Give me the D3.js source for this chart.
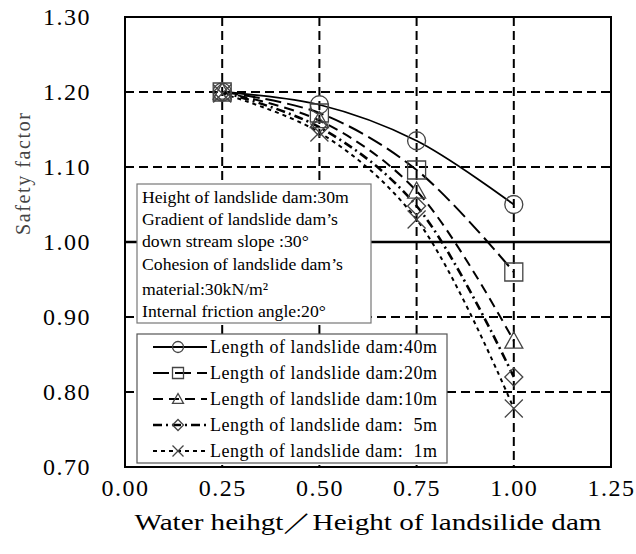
<!DOCTYPE html>
<html>
<head>
<meta charset="utf-8">
<script src="https://cdn.jsdelivr.net/npm/d3@7"></script>
<style>
  body { margin: 0; background: #fff; }
  text { font-family: "Liberation Serif", "DejaVu Serif", serif; fill: #000; }
</style>
</head>
<body>
<svg id="chart" width="636" height="554"></svg>
<script>
// x values: water height / dam height
const ratio = [0.25, 0.5, 0.75, 1.0];

// safety factor for each dam length
const sf40 = [1.2, 1.183, 1.135, 1.05];
const sf20 = [1.2, 1.172, 1.096, 0.96];
const sf10 = [1.2, 1.162, 1.068, 0.868];
const sf5 = [1.2, 1.153, 1.048, 0.82];
const sf1 = [1.198, 1.146, 1.03, 0.778];

const seriesNames = [
  "Length of landslide dam:40m",
  "Length of landslide dam:20m",
  "Length of landslide dam:10m",
  "Length of landslide dam:\u00a0\u00a05m",
  "Length of landslide dam:\u00a0\u00a01m",
];

const xTicks = [0, 0.25, 0.5, 0.75, 1.0, 1.25];
const yTicks = [0.7, 0.8, 0.9, 1.0, 1.1, 1.2, 1.3];

const noteLines = [
  "Height of landslide dam:30m",
  "Gradient of landslide dam\u2019s",
  "down stream slope :30\u00b0",
  "Cohesion of landslide dam\u2019s",
  "material:30kN/m\u00b2",
  "Internal friction angle:20\u00b0",
];

const svg = d3.select("#chart");
const plotL = 125, plotR = 611, plotT = 17, plotB = 467;

const x = d3.scaleLinear().domain([0, 1.25]).range([plotL, plotR]);
const y = d3.scaleLinear().domain([0.7, 1.3]).range([plotB, plotT]);

// styles per series: dash pattern, width, marker
const styles = [
  { dash: null, width: 1.8, marker: "circle" },
  { dash: "16,6", width: 2, marker: "square" },
  { dash: "10,6", width: 2, marker: "triangle" },
  { dash: "9,4,2,4", width: 2.6, marker: "diamond" },
  { dash: "4,4", width: 2, marker: "cross" },
];
const allSeries = [sf40, sf20, sf10, sf5, sf1];

// gridlines
const grid = svg.append("g");
grid.selectAll("line.gx")
  .data(xTicks.slice(1, -1))
  .join("line")
  .attr("class", "gx")
  .attr("x1", (d) => x(d)).attr("x2", (d) => x(d))
  .attr("y1", plotT).attr("y2", plotB)
  .attr("stroke", "#000").attr("stroke-width", 2)
  .attr("stroke-dasharray", "9,5");
grid.selectAll("line.gy")
  .data(yTicks.slice(1, -1))
  .join("line")
  .attr("class", "gy")
  .attr("x1", plotL).attr("x2", plotR)
  .attr("y1", (d) => y(d)).attr("y2", (d) => y(d))
  .attr("stroke", "#000")
  .attr("stroke-width", (d) => (d === 1.0 ? 2.6 : 2))
  .attr("stroke-dasharray", (d) => (d === 1.0 ? null : "9,5"));

// axes (labels only, frame drawn later)
const xAxis = d3.axisBottom(x).tickValues(xTicks).tickSize(0).tickPadding(12)
  .tickFormat(d3.format(".2f"));
const yAxis = d3.axisLeft(y).tickValues(yTicks).tickSize(0).tickPadding(34)
  .tickFormat(d3.format(".2f"));

svg.append("g").attr("transform", `translate(0,${plotB})`).call(xAxis)
  .call((g) => g.select(".domain").remove())
  .selectAll("text")
  .style("font-family", "Liberation Serif, serif")
  .style("font-size", "24px")
  .attr("letter-spacing", "1.5");
svg.append("g").attr("transform", `translate(${plotL},0)`).call(yAxis)
  .call((g) => g.select(".domain").remove())
  .selectAll("text")
  .style("font-family", "Liberation Serif, serif")
  .style("font-size", "24px")
  .attr("letter-spacing", "1.5");

// axis titles
svg.append("text")
  .attr("x", 368).attr("y", 530)
  .attr("text-anchor", "middle")
  .attr("textLength", 467)
  .attr("lengthAdjust", "spacingAndGlyphs")
  .style("font-size", "24px")
  .text("Water heihgt\uff0fHeight of landsilide dam");
svg.append("text")
  .attr("transform", "translate(30,174) rotate(-90)")
  .attr("text-anchor", "middle")
  .attr("textLength", 122)
  .style("font-size", "20px")
  .style("fill", "#444")
  .text("Safety factor");

// note box
const note = svg.append("g");
note.append("rect")
  .attr("x", 137).attr("y", 184).attr("width", 234).attr("height", 139)
  .attr("fill", "#fff").attr("stroke", "#777").attr("stroke-width", 1.2);
note.selectAll("text")
  .data(noteLines)
  .join("text")
  .attr("x", 142)
  .attr("y", (d, i) => [203, 225, 247, 270, 295, 317][i])
  .style("font-size", "17.7px")
  .text((d) => d);

// marker shapes
function drawMarker(g, type, cx, cy, s) {
  const h = s / 2;
  const m = g.append("path")
    .attr("fill", "none").attr("stroke", "#444").attr("stroke-width", 1.3);
  if (type === "circle") {
    m.attr("d", d3.arc()({ innerRadius: 0, outerRadius: h, startAngle: 0, endAngle: 2 * Math.PI }))
      .attr("transform", `translate(${cx},${cy})`);
  } else if (type === "square") {
    m.attr("d", `M${cx - h},${cy - h}h${s}v${s}h${-s}Z`);
  } else if (type === "triangle") {
    m.attr("d", `M${cx},${cy - h}L${cx + h},${cy + h * 0.8}L${cx - h},${cy + h * 0.8}Z`);
  } else if (type === "diamond") {
    m.attr("d", `M${cx},${cy - h}L${cx + h},${cy}L${cx},${cy + h}L${cx - h},${cy}Z`);
  } else {
    m.attr("d", `M${cx - h},${cy - h}L${cx + h},${cy + h}M${cx - h},${cy + h}L${cx + h},${cy - h}`);
  }
}

// data lines
const line = d3.line()
  .x((d) => x(d[0]))
  .y((d) => y(d[1]))
  .curve(d3.curveCatmullRom.alpha(0.5));

const plot = svg.append("g");
allSeries.forEach(function (vals, i) {
  const pts = ratio.map((r, j) => [r, vals[j]]);
  plot.append("path")
    .attr("d", line(pts))
    .attr("fill", "none")
    .attr("stroke", "#000")
    .attr("stroke-width", styles[i].width)
    .attr("stroke-dasharray", styles[i].dash);
});
allSeries.forEach(function (vals, i) {
  ratio.forEach(function (r, j) {
    drawMarker(plot, styles[i].marker, x(r), y(vals[j]), 18);
  });
});

// legend
const legend = svg.append("g");
legend.append("rect")
  .attr("x", 137).attr("y", 334).attr("width", 310).attr("height", 129)
  .attr("fill", "#fff").attr("stroke", "#555").attr("stroke-width", 1.2);
seriesNames.forEach(function (name, i) {
  const cy = 347 + i * 26;
  legend.append("line")
    .attr("x1", 153).attr("x2", 207).attr("y1", cy).attr("y2", cy)
    .attr("stroke", "#000")
    .attr("stroke-width", styles[i].width)
    .attr("stroke-dasharray", styles[i].dash);
  drawMarker(legend, styles[i].marker, 178, cy, 11);
  legend.append("text")
    .attr("x", 210).attr("y", cy + 6)
    .attr("textLength", 227)
    .style("font-size", "18px")
    .text(name);
});

// frame
svg.append("rect")
  .attr("x", plotL).attr("y", plotT)
  .attr("width", plotR - plotL).attr("height", plotB - plotT)
  .attr("fill", "none").attr("stroke", "#000").attr("stroke-width", 2);
</script>
</body>
</html>
